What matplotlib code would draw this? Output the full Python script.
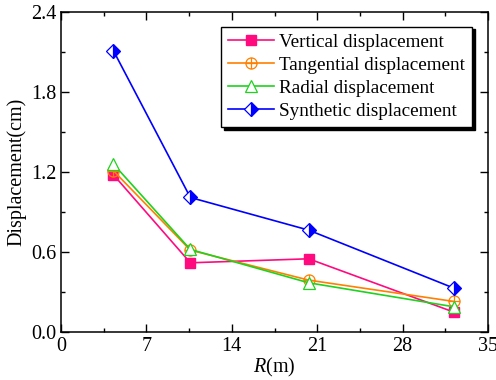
import matplotlib.pyplot as plt
import numpy as np
from matplotlib.path import Path

plt.switch_backend("Agg")
plt.rcParams["font.family"] = ["Liberation Serif", "DejaVu Serif"]
plt.rcParams["mathtext.fontset"] = "custom"
plt.rcParams["mathtext.it"] = "Liberation Serif:italic"
plt.rcParams["mathtext.rm"] = "Liberation Serif"

# 측점 거리 R(m)
r = [4.3, 10.6, 20.3, 32.2]
vertical = [1.18, 0.52, 0.55, 0.15]
tangential = [1.21, 0.615, 0.39, 0.23]
radial = [1.26, 0.62, 0.37, 0.19]
synthetic = [2.11, 1.01, 0.765, 0.33]

labels = ["Vertical displacement", "Tangential displacement",
          "Radial displacement", "Synthetic displacement"]

# 원 + 십자 마커
circ = Path.unit_circle()
cross = Path([(-1, 0), (1, 0), (0, -1), (0, 1)],
             [Path.MOVETO, Path.LINETO, Path.MOVETO, Path.LINETO])
circ_plus = Path.make_compound_path(circ, cross)

fig = plt.figure(figsize=(4.96, 3.8), dpi=100)
ax = fig.add_axes([0.123, 0.126, 0.861, 0.842])

ax.plot(r, vertical, color="#ff0a7f", lw=1.2, marker="s", ms=6.5,
        mfc="#ff0a7f", mec="#ff0a7f", label=labels[0])
ax.plot(r, tangential, color="#ff8000", lw=1.2, marker=circ_plus, ms=8,
        mfc="none", mec="#ff8000", mew=0.9, label=labels[1])
ax.plot(r, radial, color="#1ed21e", lw=1.2, marker="^", ms=8.5,
        mfc="white", mec="#1ed21e", mew=0.9, label=labels[2])
ax.plot(r, synthetic, color="#0000ff", lw=1.2, marker="D", ms=7,
        fillstyle="right", mfc="#0000ff", mfcalt="white", mec="#0000ff",
        mew=0.9, label=labels[3])

ax.set_xlim(0, 35)
ax.set_ylim(0, 2.4)
ax.set_xticks(np.arange(0, 36, 7))
ax.set_xticks(np.arange(3.5, 35, 7), minor=True)
ax.set_yticks(np.arange(0, 2.41, 0.6))
ax.set_yticks(np.arange(0.3, 2.4, 0.6), minor=True)
ax.yaxis.set_major_formatter(plt.FormatStrFormatter("%.1f"))
ax.tick_params(which="both", direction="in", top=True, right=True,
               labelsize=14.5, width=1)
ax.tick_params(which="major", length=6)
ax.tick_params(which="minor", length=3)
for s in ax.spines.values():
    s.set_linewidth(1.1)

ax.set_xlabel(r"$\mathit{R}$(m)", fontsize=14.5, labelpad=0)
ax.set_ylabel("Displacement(cm)", fontsize=14.5, labelpad=3)

leg = ax.legend(loc="upper right", bbox_to_anchor=(0.962, 0.955), fontsize=13.8,
                frameon=True, fancybox=False, edgecolor="black",
                shadow={"color": "black", "alpha": 1},
                handlelength=2.4, handletextpad=0.3, borderpad=0.35,
                labelspacing=0.3, borderaxespad=0)
leg.get_frame().set_linewidth(1.0)

fig.savefig("out.png", dpi=100)
